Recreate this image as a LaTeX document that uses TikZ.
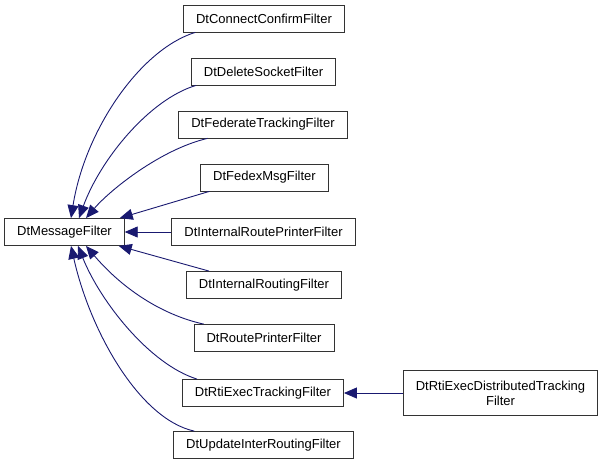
\documentclass[tikz,border=0pt]{standalone}
\usepackage{fontspec}
\setmainfont{Liberation Sans}
\usetikzlibrary{arrows.meta}
\definecolor{edgeblue}{HTML}{191970}
\begin{document}
\begin{tikzpicture}[
    x=1pt,
    y=-1pt,
    cls/.style={draw=black!80, line width=0.8pt, fill=white, inner xsep=12.5pt,
      minimum height=27pt, font=\fontsize{13}{15}\selectfont},
    inh/.style={draw=edgeblue, line width=0.9pt, -{Triangle[length=13pt,width=11pt]}}
  ]
    \useasboundingbox (0,0) rectangle (605,467);
    \node[cls] (msg) at (64.5,232) {DtMessageFilter};
    \node[cls] (ccf) at (264,18.5) {DtConnectConfirmFilter};
    \node[cls] (dsf) at (263.5,71.5) {DtDeleteSocketFilter};
    \node[cls] (ftf) at (263,124.5) {DtFederateTrackingFilter};
    \node[cls] (fmf) at (264.5,177.5) {DtFedexMsgFilter};
    \node[cls] (irp) at (263.5,232) {DtInternalRoutePrinterFilter};
    \node[cls] (irf) at (264,285) {DtInternalRoutingFilter};
    \node[cls] (rpf) at (264,338) {DtRoutePrinterFilter};
    \node[cls] (ret) at (263,393) {DtRtiExecTrackingFilter};
    \node[cls] (uir) at (263.5,445) {DtUpdateInterRoutingFilter};
    \node[cls, align=center, minimum height=45pt] (red) at (500.5,393)
      {DtRtiExecDistributedTracking\\Filter};
    \draw[inh] ([xshift=12pt]ccf.south west) .. controls +(-55,17) and +(14,-88) .. ([xshift=6.5pt]msg.north);
    \draw[inh] ([xshift=5pt]dsf.south west) .. controls +(-47,14) and +(21,-58) .. ([xshift=14.5pt]msg.north);
    \draw[inh] ([xshift=29pt]ftf.south west) .. controls +(-47,11) and +(24,-28) .. ([xshift=21.5pt]msg.north);
    \draw[inh] ([xshift=9pt]fmf.south west) -- ([xshift=-5pt]msg.north east);
    \draw[inh] (irp.west) -- (msg.east);
    \draw[inh] ([xshift=23pt]irf.north west) -- ([xshift=-6pt]msg.south east);
    \draw[inh] ([xshift=10pt]rpf.north west) .. controls +(-45,-10) and +(34,40) .. ([xshift=21.5pt]msg.south);
    \draw[inh] ([xshift=15pt]ret.north west) .. controls +(-48,-15) and +(22,55) .. ([xshift=13.5pt]msg.south);
    \draw[inh] ([xshift=21pt]uir.north west) .. controls +(-55,-12) and +(19,85) .. ([xshift=6.5pt]msg.south);
    \draw[inh] (red.west) -- (ret.east);
  \end{tikzpicture}
\end{document}
